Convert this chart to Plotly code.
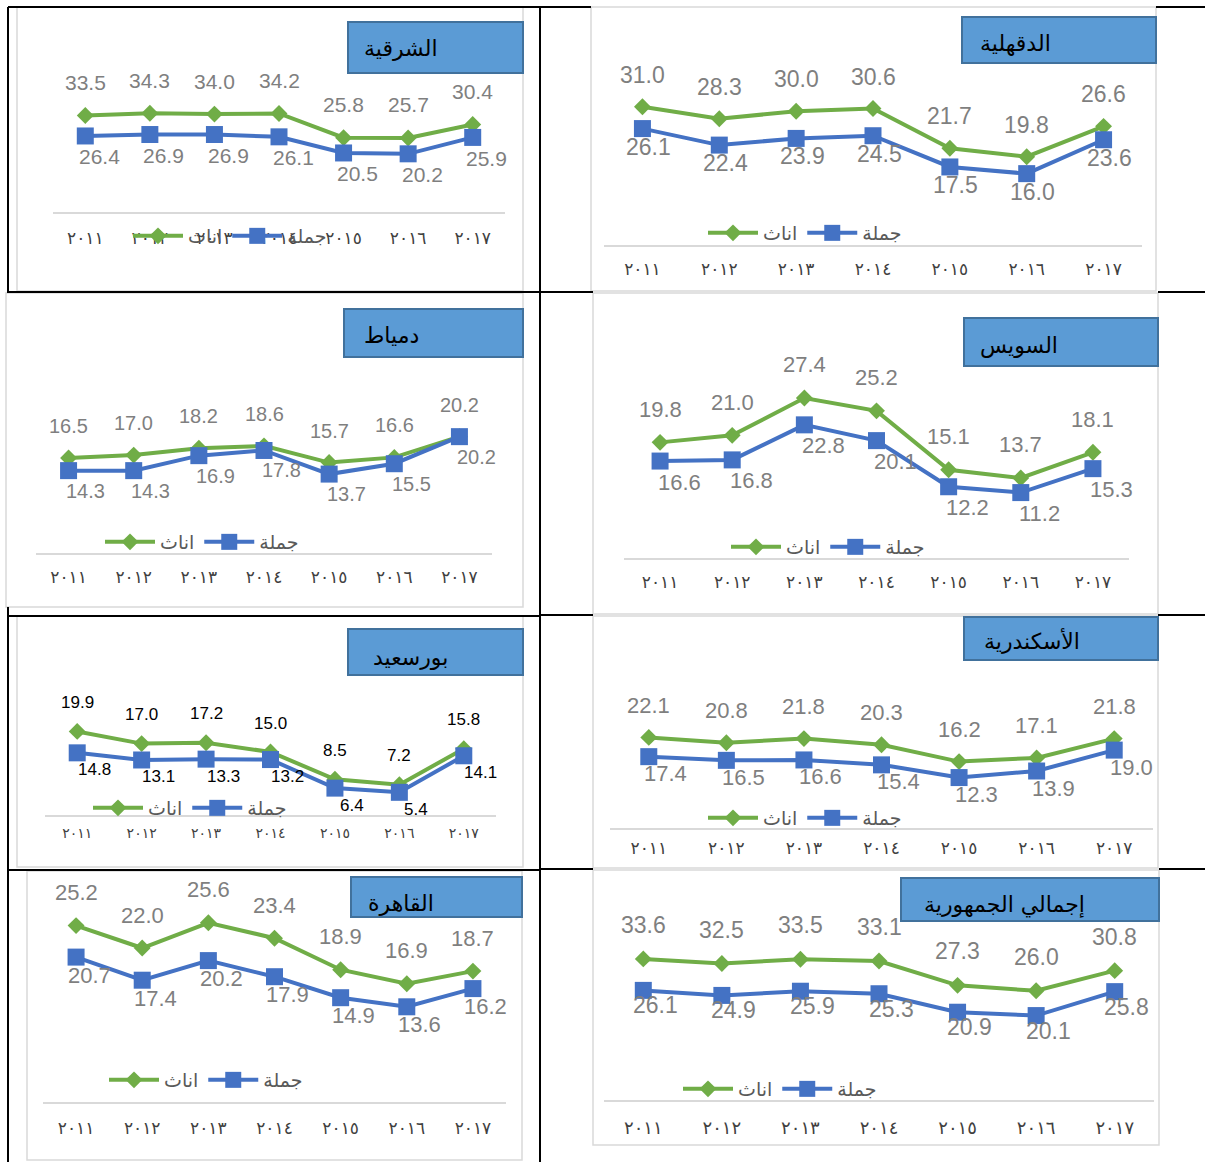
import plotly.graph_objects as go

# ---------------- data ----------------
years = ["٢٠١١", "٢٠١٢", "٢٠١٣", "٢٠١٤", "٢٠١٥", "٢٠١٦", "٢٠١٧"]
name_female = "اناث"
name_total = "جملة"

sharqia_female = [33.5, 34.3, 34.0, 34.2, 25.8, 25.7, 30.4]
sharqia_total = [26.4, 26.9, 26.9, 26.1, 20.5, 20.2, 25.9]

dakahlia_female = [31.0, 28.3, 30.0, 30.6, 21.7, 19.8, 26.6]
dakahlia_total = [26.1, 22.4, 23.9, 24.5, 17.5, 16.0, 23.6]

damietta_female = [16.5, 17.0, 18.2, 18.6, 15.7, 16.6, 20.2]
damietta_total = [14.3, 14.3, 16.9, 17.8, 13.7, 15.5, 20.2]

suez_female = [19.8, 21.0, 27.4, 25.2, 15.1, 13.7, 18.1]
suez_total = [16.6, 16.8, 22.8, 20.1, 12.2, 11.2, 15.3]

portsaid_female = [19.9, 17.0, 17.2, 15.0, 8.5, 7.2, 15.8]
portsaid_total = [14.8, 13.1, 13.3, 13.2, 6.4, 5.4, 14.1]

alex_female = [22.1, 20.8, 21.8, 20.3, 16.2, 17.1, 21.8]
alex_total = [17.4, 16.5, 16.6, 15.4, 12.3, 13.9, 19.0]

cairo_female = [25.2, 22.0, 25.6, 23.4, 18.9, 16.9, 18.7]
cairo_total = [20.7, 17.4, 20.2, 17.9, 14.9, 13.6, 16.2]

egypt_female = [33.6, 32.5, 33.5, 33.1, 27.3, 26.0, 30.8]
egypt_total = [26.1, 24.9, 25.9, 25.3, 20.9, 20.1, 25.8]

# ---------------- layout config (pixels) ----------------
W, H = 1205, 1162
GREEN = "#70AD47"
BLUE = "#4472C4"
LABEL_GRAY = "#7F7F7F"
ARIAL = "Liberation Sans, Arial, sans-serif"
NARROW = "Liberation Sans Narrow, Arial Narrow, Liberation Sans, sans-serif"

panels = [
    dict(title="الشرقية", f=sharqia_female, t=sharqia_total,
         frame=(17, 7, 523, 291), tbox=(348, 22, 523, 73), tc=(401, 48),
         ax=(53, 505), y0=212, scale=2.88, top=20, legend=(230, 236),
         lfont=(ARIAL, 21, LABEL_GRAY), gdy=33, bdx=14, bdy=21, ticky=238, tsize=17),
    dict(title="الدقهلية", f=dakahlia_female, t=dakahlia_total,
         frame=(591, 7, 1156, 291), tbox=(962, 17, 1156, 63), tc=(1015, 43),
         ax=(604, 1142), y0=245, scale=4.46, top=20, legend=(805, 233),
         lfont=(NARROW, 23, LABEL_GRAY), gdy=32, bdx=6, bdy=18, ticky=268, tsize=17),
    dict(title="دمياط", f=damietta_female, t=damietta_total,
         frame=(6, 293, 523, 607), tbox=(344, 309, 523, 357), tc=(391, 335),
         ax=(36, 492), y0=553, scale=5.76, top=310, legend=(202, 542),
         lfont=(ARIAL, 20, LABEL_GRAY), gdy=32, bdx=17, bdy=20, ticky=577, tsize=17),
    dict(title="السويس", f=suez_female, t=suez_total,
         frame=(593, 293, 1158, 614), tbox=(964, 318, 1158, 366), tc=(1019, 346),
         ax=(624, 1129), y0=558, scale=5.84, top=310, legend=(828, 547),
         lfont=(NARROW, 22, LABEL_GRAY), gdy=33, bdx=19, bdy=21, ticky=582, tsize=17),
    dict(title="بورسعيد", f=portsaid_female, t=portsaid_total,
         frame=(17, 616, 523, 867), tbox=(348, 629, 523, 675), tc=(410, 657),
         ax=(45, 496), y0=815, scale=4.2, top=630, legend=(190, 808),
         lfont=(ARIAL, 17, "#000000"), gdy=29, bdx=17, bdy=17, ticky=833, tsize=14),
    dict(title="الأسكندرية", f=alex_female, t=alex_total,
         frame=(593, 616, 1158, 868), tbox=(964, 617, 1158, 660), tc=(1032, 641),
         ax=(610, 1153), y0=828, scale=4.1, top=630, legend=(805, 818),
         lfont=(NARROW, 22, LABEL_GRAY), gdy=32, bdx=17, bdy=17, ticky=848, tsize=17),
    dict(title="القاهرة", f=cairo_female, t=cairo_total,
         frame=(27, 871, 522, 1160), tbox=(351, 877, 522, 917), tc=(401, 903),
         ax=(43, 506), y0=1102, scale=7.0, top=880, legend=(206, 1080),
         lfont=(NARROW, 22, LABEL_GRAY), gdy=33, bdx=13, bdy=18, ticky=1127, tsize=17),
    dict(title="إجمالي الجمهورية", f=egypt_female, t=egypt_total,
         frame=(593, 870, 1159, 1145), tbox=(901, 878, 1159, 921), tc=(1004, 905),
         ax=(604, 1154), y0=1100, scale=4.2, top=880, legend=(780, 1089),
         lfont=(NARROW, 23, LABEL_GRAY), gdy=34, bdx=12, bdy=15, ticky=1127, tsize=18),
]


def px(x):
    return x / W


def py(y):
    return 1 - y / H


fig = go.Figure()
shapes = []
annotations = []
layout = {}

# chart frames
for p in panels:
    x0, y0, x1, y1 = p["frame"]
    shapes.append(dict(type="rect", xref="paper", yref="paper",
                       x0=px(x0), x1=px(x1), y0=py(y1), y1=py(y0),
                       fillcolor="white", line=dict(color="#D9D9D9", width=1.5),
                       layer="below"))

# table lines (black)
black_segments = [
    ((8, 7), (540, 7)), ((8, 292), (540, 292)), ((8, 616), (540, 616)), ((8, 870), (540, 870)),
    ((540, 7), (591, 7)), ((1156, 7), (1205, 7)),
    ((540, 292), (593, 292)), ((1158, 292), (1205, 292)),
    ((540, 615), (593, 615)), ((1158, 615), (1205, 615)),
    ((540, 869), (593, 869)), ((1159, 869), (1205, 869)),
    ((8, 7), (8, 293)), ((8, 607), (8, 1162)),
    ((540, 7), (540, 1162)),
]
for (a, b) in black_segments:
    shapes.append(dict(type="line", xref="paper", yref="paper",
                       x0=px(a[0]), y0=py(a[1]), x1=px(b[0]), y1=py(b[1]),
                       line=dict(color="black", width=2)))

for i, p in enumerate(panels):
    n = i + 1
    xa = "xaxis" if n == 1 else f"xaxis{n}"
    ya = "yaxis" if n == 1 else f"yaxis{n}"
    xr = "x" if n == 1 else f"x{n}"
    yr = "y" if n == 1 else f"y{n}"
    lg = "legend" if n == 1 else f"legend{n}"

    ymax = (p["y0"] - p["top"]) / p["scale"]
    std = p["ticky"] - p["y0"] - p["tsize"] * 0.5 - 7

    layout[xa] = dict(domain=[px(p["ax"][0]), px(p["ax"][1])], anchor=yr,
                      type="category", categoryorder="array", categoryarray=years,
                      range=[-0.5, 6.5], showgrid=False, zeroline=False,
                      showline=True, linecolor="#D9D9D9", linewidth=1.5,
                      ticks="", ticklabelstandoff=max(0, int(round(std))),
                      tickfont=dict(family="DejaVu Sans", size=p["tsize"], color="#404040"),
                      fixedrange=True)
    layout[ya] = dict(domain=[py(p["y0"]), py(p["top"])], anchor=xr,
                      range=[0, ymax], visible=False, fixedrange=True)

    fig.add_trace(go.Scatter(x=years, y=p["f"], name=name_female, mode="lines+markers",
                             line=dict(color=GREEN, width=4),
                             marker=dict(symbol="diamond", size=13, color=GREEN),
                             xaxis=xr, yaxis=yr, legend=lg, cliponaxis=False))
    fig.add_trace(go.Scatter(x=years, y=p["t"], name=name_total, mode="lines+markers",
                             line=dict(color=BLUE, width=4),
                             marker=dict(symbol="square", size=17, color=BLUE),
                             xaxis=xr, yaxis=yr, legend=lg, cliponaxis=False))

    layout[lg] = dict(x=px(p["legend"][0]), y=py(p["legend"][1]), xanchor="center",
                      yanchor="middle", orientation="h", bgcolor="rgba(0,0,0,0)",
                      font=dict(family="DejaVu Sans", size=19, color="#595959"),
                      traceorder="normal", itemwidth=50)

    fam, size, col = p["lfont"]
    for yr_, v in zip(years, p["f"]):
        annotations.append(dict(x=yr_, y=v, xref=xr, yref=yr, text=f"{v:.1f}",
                                showarrow=False, yshift=p["gdy"],
                                font=dict(family=fam, size=size, color=col)))
    for yr_, v in zip(years, p["t"]):
        annotations.append(dict(x=yr_, y=v, xref=xr, yref=yr, text=f"{v:.1f}",
                                showarrow=False, yshift=-p["bdy"], xshift=p["bdx"],
                                font=dict(family=fam, size=size, color=col)))

    # title box
    tx0, ty0, tx1, ty1 = p["tbox"]
    shapes.append(dict(type="rect", xref="paper", yref="paper",
                       x0=px(tx0), x1=px(tx1), y0=py(ty1), y1=py(ty0),
                       fillcolor="#5B9BD5", line=dict(color="#41719C", width=2)))
    annotations.append(dict(x=px(p["tc"][0]), y=py(p["tc"][1]), xref="paper", yref="paper",
                            text=p["title"], showarrow=False, xanchor="center", yanchor="middle",
                            font=dict(family="DejaVu Sans", size=22, color="black")))

fig.update_layout(width=W, height=H, margin=dict(l=0, r=0, t=0, b=0),
                  paper_bgcolor="white", plot_bgcolor="rgba(0,0,0,0)",
                  shapes=shapes, annotations=annotations, showlegend=True, **layout)

fig.write_html("out.html", config={"displayModeBar": False},
               post_script="document.body.style.margin='0';document.body.style.overflow='hidden';")
